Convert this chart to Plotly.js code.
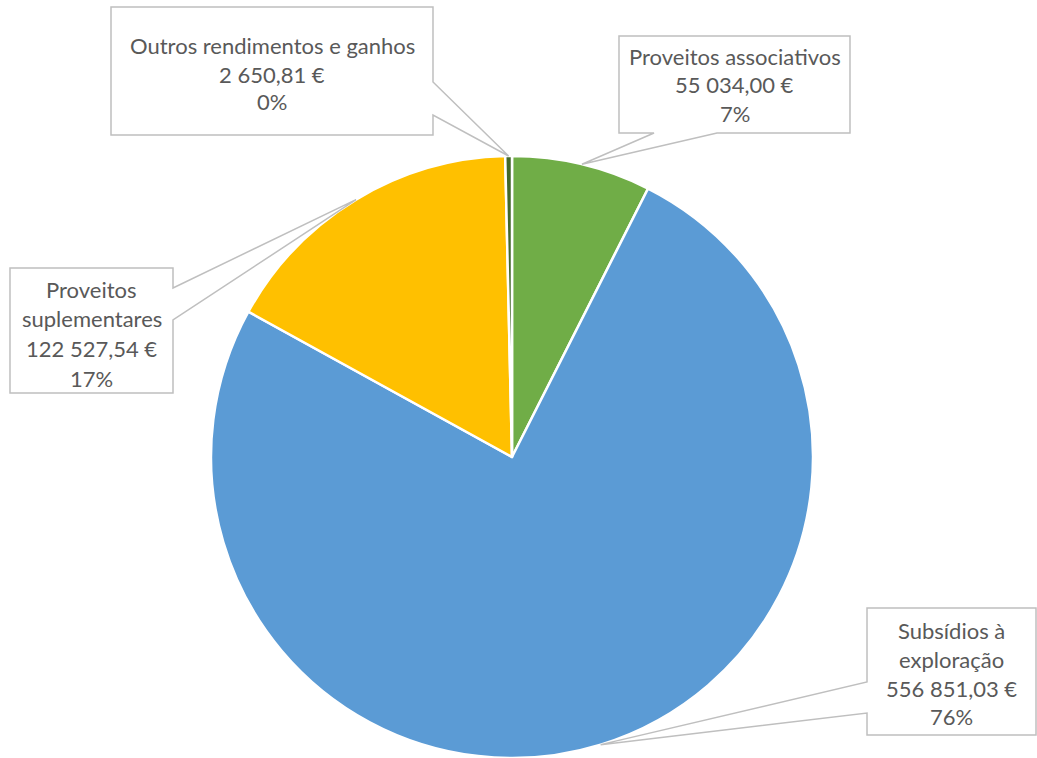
<!DOCTYPE html>
<html>
<head>
<meta charset="utf-8">
<script src="https://cdn.plot.ly/plotly-3.0.1.min.js"></script>
<style>html,body{margin:0;padding:0;background:#fff;overflow:hidden}#chart{width:1037px;height:758px}</style>
</head>
<body>
<div id="chart"></div>
<script>
// ---- data ----
var categories = ['Proveitos associativos', 'Subsídios à exploração', 'Proveitos suplementares', 'Outros rendimentos e ganhos'];
var values = [55034.00, 556851.03, 122527.54, 2650.81];
var colors = ['#70AD47', '#5B9BD5', '#FFC000', '#43682B'];

// ---- layout config (pixels) ----
var W = 1037, H = 758;
var cx = 512, cy = 457, R = 301;
// callout boxes: left, top, right, bottom, pointer side and base points
var callouts = [
  {box: [619, 36, 850, 133], side: 'bottom', base: [654, 717], wrap: false, lineY: [56, 85, 113]},
  {box: [867, 608, 1036, 735], side: 'left', base: [682, 713], wrap: true, lineY: [630, 659, 688, 716]},
  {box: [10, 268, 173, 393], side: 'right', base: [288, 320], wrap: true, lineY: [289, 318, 348, 378]},
  {box: [111, 7, 433, 135], side: 'right', base: [82, 115], wrap: false, lineY: [45, 74, 101]}
];

function px(x) { return x / W; }
function py(y) { return 1 - y / H; }
function fmtEuro(v) {
  var parts = v.toFixed(2).split('.');
  var intp = parts[0].replace(/\B(?=(\d{3})+(?!\d))/g, ' ');
  return intp + ',' + parts[1] + ' €';
}

var total = values.reduce(function (a, b) { return a + b; }, 0);
var shapes = [], annotations = [];
var cum = 0;
values.forEach(function (v, i) {
  var frac = v / total;
  var mid = (cum + frac / 2) * 2 * Math.PI;
  cum += frac;
  var tx = cx + R * Math.sin(mid), ty = cy - R * Math.cos(mid);
  var c = callouts[i];
  var L = c.box[0], T = c.box[1], Rr = c.box[2], B = c.box[3];
  var pts;
  if (c.side === 'right') {
    pts = [[L, T], [Rr, T], [Rr, c.base[0]], [tx, ty], [Rr, c.base[1]], [Rr, B], [L, B]];
  } else if (c.side === 'left') {
    pts = [[L, T], [Rr, T], [Rr, B], [L, B], [L, c.base[1]], [tx, ty], [L, c.base[0]]];
  } else {
    pts = [[L, T], [Rr, T], [Rr, B], [c.base[1], B], [tx, ty], [c.base[0], B], [L, B]];
  }
  var path = pts.map(function (p, k) { return (k ? 'L' : 'M') + px(p[0]).toFixed(5) + ',' + py(p[1]).toFixed(5); }).join(' ') + ' Z';
  shapes.push({type: 'path', xref: 'paper', yref: 'paper', path: path,
    fillcolor: '#FFFFFF', line: {color: '#BFBFBF', width: 1.5}, layer: 'above'});
  var name = categories[i];
  var lines;
  if (c.wrap) {
    var sp = name.lastIndexOf(' ');
    lines = [name.slice(0, sp), name.slice(sp + 1)];
  } else {
    lines = [name];
  }
  lines.push(fmtEuro(v));
  lines.push(Math.round(frac * 100) + '%');
  var centerX = (L + Rr) / 2;
  lines.forEach(function (t, k) {
    annotations.push({xref: 'paper', yref: 'paper', x: px(centerX), y: py(c.lineY[k]),
      xanchor: 'center', yanchor: 'middle', text: t, showarrow: false,
      font: {family: 'Lato, "Open Sans", sans-serif', size: 22, color: '#595959'}});
  });
});

var trace = {
  type: 'pie',
  labels: categories,
  values: values,
  sort: false,
  direction: 'clockwise',
  rotation: 0,
  textinfo: 'none',
  hoverinfo: 'none',
  showlegend: false,
  marker: {colors: colors, line: {color: '#FFFFFF', width: 2.5}},
  domain: {x: [px(cx - R), px(cx + R)], y: [py(cy + R), py(cy - R)]}
};

var layout = {
  width: W, height: H,
  margin: {l: 0, r: 0, t: 0, b: 0},
  paper_bgcolor: '#FFFFFF',
  showlegend: false,
  shapes: shapes,
  annotations: annotations
};

Plotly.newPlot('chart', [trace], layout, {displayModeBar: false, staticPlot: true});
</script>
</body>
</html>
